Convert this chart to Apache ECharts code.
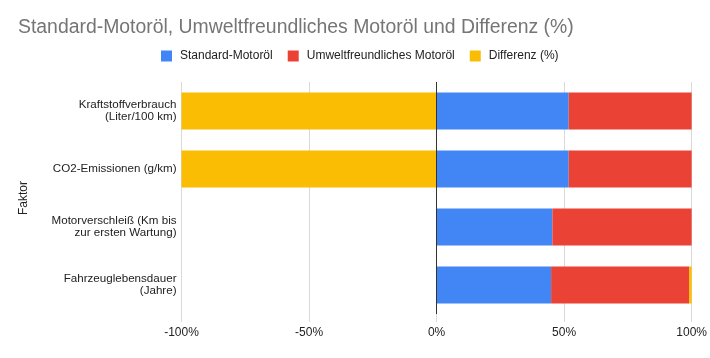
<!DOCTYPE html>
<html>
<head>
<meta charset="utf-8">
<script src="https://cdn.jsdelivr.net/npm/echarts@6/dist/echarts.min.js"></script>
<style>
html,body{margin:0;padding:0;background:#fff;}
#chart{width:710px;height:358px;}
</style>
</head>
<body>
<div id="chart"></div>
<script>
const categories = ["Kraftstoffverbrauch (Liter/100 km)", "CO2-Emissionen (g/km)", "Motorverschleiß (Km bis zur ersten Wartung)", "Fahrzeuglebensdauer (Jahre)"];
const standardOil = [51.8, 51.8, 45.4, 44.9];
const ecoOil = [48.2, 48.2, 54.6, 54.1];
const difference = [-100, -100, 0, 1.0];
const xTicks = [-100, -50, 0, 50, 100];
const seriesNames = ["Standard-Motoröl", "Umweltfreundliches Motoröl", "Differenz (%)"];

const font = "Arial, 'Liberation Sans', sans-serif";
const labelSize = 11.6;
const ctx = document.createElement('canvas').getContext('2d');
ctx.font = labelSize + "px " + font;
function wrapWords(text, maxW) {
  const words = text.split(' ');
  const lines = [];
  let cur = '';
  words.forEach(w => {
    const test = cur ? cur + ' ' + w : w;
    if (cur && ctx.measureText(test).width > maxW) { lines.push(cur); cur = w; }
    else cur = test;
  });
  if (cur) lines.push(cur);
  return lines.join('\n');
}

const chart = echarts.init(document.getElementById('chart'), null, {renderer: 'canvas'});
chart.setOption({
  animation: false,
  textStyle: {fontFamily: font},
  title: {
    text: "Standard-Motoröl, Umweltfreundliches Motoröl und Differenz (%)",
    left: 13, top: 13,
    textStyle: {fontSize: 19.4, fontWeight: 'normal', color: '#757575', fontFamily: font}
  },
  legend: {
    data: seriesNames,
    left: 156, top: 45,
    itemWidth: 11, itemHeight: 11, itemGap: 15,
    icon: 'rect',
    textStyle: {fontSize: 12, color: '#222', fontFamily: font, padding: [0, 0, 0, 3]}
  },
  grid: {left: 181.5, right: 17.7, top: 82, bottom: 44, containLabel: false},
  xAxis: {
    type: 'value',
    min: xTicks[0], max: xTicks[xTicks.length - 1], interval: 50,
    axisLine: {show: false},
    axisTick: {show: true, length: 8, lineStyle: {color: '#d9d9d9'}},
    splitLine: {show: true, lineStyle: {color: '#d9d9d9', width: 1}},
    axisLabel: {formatter: '{value}%', fontSize: 12, color: '#222', margin: 13, fontFamily: font}
  },
  yAxis: {
    type: 'category',
    data: categories,
    inverse: true,
    name: 'Faktor',
    nameLocation: 'middle',
    nameGap: 152,
    nameRotate: 90,
    nameTextStyle: {fontSize: 12, color: '#222', fontFamily: font},
    axisLine: {show: false},
    axisTick: {show: false},
    axisLabel: {fontSize: labelSize, color: '#222', margin: 5, lineHeight: 12.5, align: 'right', fontFamily: font,
      formatter: v => wrapWords(v, 134)}
  },
  series: [
    {name: seriesNames[0], type: 'bar', stack: 'total', data: standardOil, barWidth: 37, itemStyle: {color: '#4285F4'},
     markLine: {silent: true, symbol: 'none', label: {show: false}, lineStyle: {color: '#333', width: 1, type: 'solid'}, data: [{xAxis: 0}]}},
    {name: seriesNames[1], type: 'bar', stack: 'total', data: ecoOil, barWidth: 37, itemStyle: {color: '#EA4335'}},
    {name: seriesNames[2], type: 'bar', stack: 'total', data: difference, barWidth: 37, itemStyle: {color: '#FBBC04'}}
  ]
});
</script>
</body>
</html>
